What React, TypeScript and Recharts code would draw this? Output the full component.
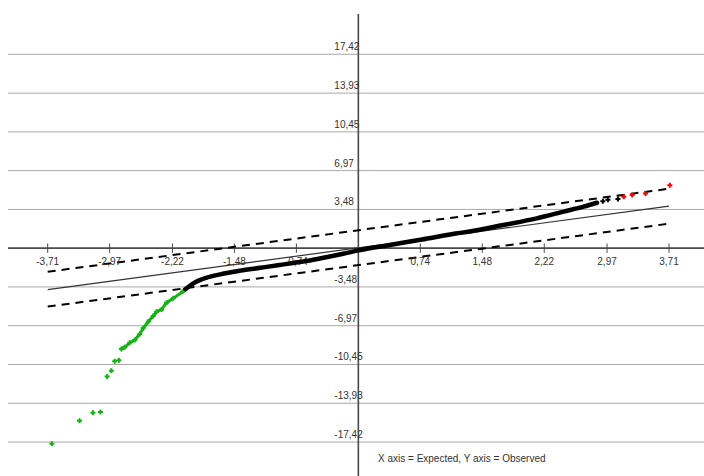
import * as React from 'react';
import {
  ComposedChart,
  Scatter,
  XAxis,
  YAxis,
  ReferenceLine,
  ReferenceDot,
} from 'recharts';

// Normal QQ plot: expected (x) vs observed (y)
const xTicks = [-3.71, -2.97, -2.22, -1.48, -0.74, 0.74, 1.48, 2.22, 2.97, 3.71];
const yTicks = [-17.42, -13.93, -10.45, -6.97, -3.48, 3.48, 6.97, 10.45, 13.93, 17.42];

// dense middle of the sample (drawn as a thick band)
const bodyPoints = [
  { x: -2.07, y: -3.72 }, { x: -1.97, y: -3.16 }, { x: -1.81, y: -2.65 },
  { x: -1.65, y: -2.35 }, { x: -1.41, y: -2.02 }, { x: -1.17, y: -1.76 },
  { x: -0.94, y: -1.51 }, { x: -0.72, y: -1.27 }, { x: -0.58, y: -1.1 },
  { x: -0.37, y: -0.8 }, { x: -0.18, y: -0.5 }, { x: 0, y: -0.2 },
  { x: 0.36, y: 0.27 }, { x: 0.76, y: 0.78 }, { x: 1.16, y: 1.31 },
  { x: 1.33, y: 1.5 }, { x: 1.73, y: 2.08 }, { x: 2.13, y: 2.68 },
  { x: 2.45, y: 3.28 }, { x: 2.69, y: 3.73 }, { x: 2.85, y: 4.08 },
];
const bodyTail = [{ x: 2.92, y: 4.22 }, { x: 2.98, y: 4.34 }, { x: 3.1, y: 4.42 }];

// low outliers (green) and high outliers (red)
const lowDense = [
  { x: -2.1, y: -3.91 }, { x: -2.21, y: -4.51 }, { x: -2.29, y: -4.9 },
  { x: -2.35, y: -5.5 }, { x: -2.41, y: -5.71 }, { x: -2.45, y: -6.1 },
  { x: -2.51, y: -6.61 }, { x: -2.57, y: -7.2 }, { x: -2.61, y: -7.71 },
  { x: -2.67, y: -8.25 }, { x: -2.73, y: -8.49 }, { x: -2.79, y: -8.91 },
  { x: -2.83, y: -9.07 },
];
const lowSparse = [
  { x: -2.86, y: -10.08 }, { x: -2.91, y: -10.15 }, { x: -2.95, y: -11.01 },
  { x: -3.0, y: -11.53 }, { x: -3.08, y: -14.72 }, { x: -3.17, y: -14.78 },
  { x: -3.33, y: -15.5 }, { x: -3.66, y: -17.57 },
];
const highPoints = [
  { x: 3.17, y: 4.62 }, { x: 3.27, y: 4.78 }, { x: 3.43, y: 4.92 }, { x: 3.72, y: 5.66 },
];

// reference line and confidence band end points
const fitLine = [{ x: -3.71, y: -3.72 }, { x: 3.71, y: 3.78 }];
const upperBand = [{ x: -3.71, y: -2.12 }, { x: 3.71, y: 5.34 }];
const lowerBand = [{ x: -3.71, y: -5.25 }, { x: 3.71, y: 2.2 }];

const FONT = '"Liberation Sans", Arial, sans-serif';
const fmt = (v: number) => v.toFixed(2).replace('.', ',');

const plusMarker = (color: string) => (props: any) => {
  const { cx, cy } = props;
  if (cx == null || cy == null) return <g />;
  return (
    <path
      d={`M${cx - 1},${cy - 2.5}h2v1.5h1.5v2h-1.5v1.5h-2v-1.5h-1.5v-2h1.5z`}
      fill={color}
    />
  );
};

const noMarker = () => <g />;

export default function App() {
  return (
    <div style={{ position: 'absolute', left: 0, top: 0, width: 704, height: 476, background: '#fff' }}>
      <ComposedChart width={704} height={476} margin={{ top: 14, right: 0, bottom: 0, left: 8 }}>
        <XAxis type="number" dataKey="x" domain={[-4.184, 4.128]} allowDataOverflow hide />
        <YAxis type="number" dataKey="y" domain={[-20.47, 21.04]} allowDataOverflow hide />

        {yTicks.map((v) => (
          <ReferenceLine key={`g${v}`} y={v} stroke="#a8a8a8" strokeWidth={1} />
        ))}
        <ReferenceLine y={0} stroke="#4a4a4a" strokeWidth={1.6} />
        <ReferenceLine x={0} stroke="#4a4a4a" strokeWidth={1.6} />
        {xTicks.map((t) => (
          <ReferenceLine
            key={`t${t}`}
            segment={[{ x: t, y: -0.42 }, { x: t, y: 0.42 }]}
            stroke="#4a4a4a"
            strokeWidth={1}
          />
        ))}
        {xTicks.map((t) => (
          <ReferenceDot
            key={`xl${t}`}
            x={t}
            y={0}
            r={0}
            shape={(p: any) => (
              <text x={p.cx} y={p.cy + 17} textAnchor="middle" fontSize={10} fontFamily={FONT} fill="#333">
                {fmt(t)}
              </text>
            )}
          />
        ))}
        {yTicks.map((v) => (
          <ReferenceDot
            key={`yl${v}`}
            x={0}
            y={v}
            r={0}
            shape={(p: any) => (
              <text x={p.cx - 24} y={p.cy - 4} textAnchor="start" fontSize={10} fontFamily={FONT} fill="#333">
                {fmt(v)}
              </text>
            )}
          />
        ))}

        <ReferenceLine segment={fitLine} stroke="#333" strokeWidth={1.2} />
        <ReferenceLine segment={upperBand} stroke="#000" strokeWidth={2} strokeDasharray="8 6" />
        <ReferenceLine segment={lowerBand} stroke="#000" strokeWidth={2} strokeDasharray="8 6" />

        <Scatter
          data={bodyPoints}
          fill="#000"
          line={{ stroke: '#000', strokeWidth: 4.5, strokeLinecap: 'round', strokeLinejoin: 'round' }}
          lineJointType="monotoneX"
          shape={noMarker}
          isAnimationActive={false}
        />
        <Scatter data={bodyTail} fill="#000" shape={plusMarker('#000')} isAnimationActive={false} />
        <Scatter
          data={lowDense}
          fill="#13b313"
          line={{ stroke: '#13b313', strokeWidth: 3, strokeLinecap: 'round' }}
          shape={plusMarker('#13b313')}
          isAnimationActive={false}
        />
        <Scatter data={lowSparse} fill="#13b313" shape={plusMarker('#13b313')} isAnimationActive={false} />
        <Scatter data={highPoints} fill="#ff0000" shape={plusMarker('#ff0000')} isAnimationActive={false} />
      </ComposedChart>
      <div
        style={{
          position: 'absolute',
          left: 378,
          top: 453,
          fontFamily: FONT,
          fontSize: 10,
          color: '#333',
          whiteSpace: 'nowrap',
        }}
      >
        X axis = Expected, Y axis = Observed
      </div>
    </div>
  );
}
